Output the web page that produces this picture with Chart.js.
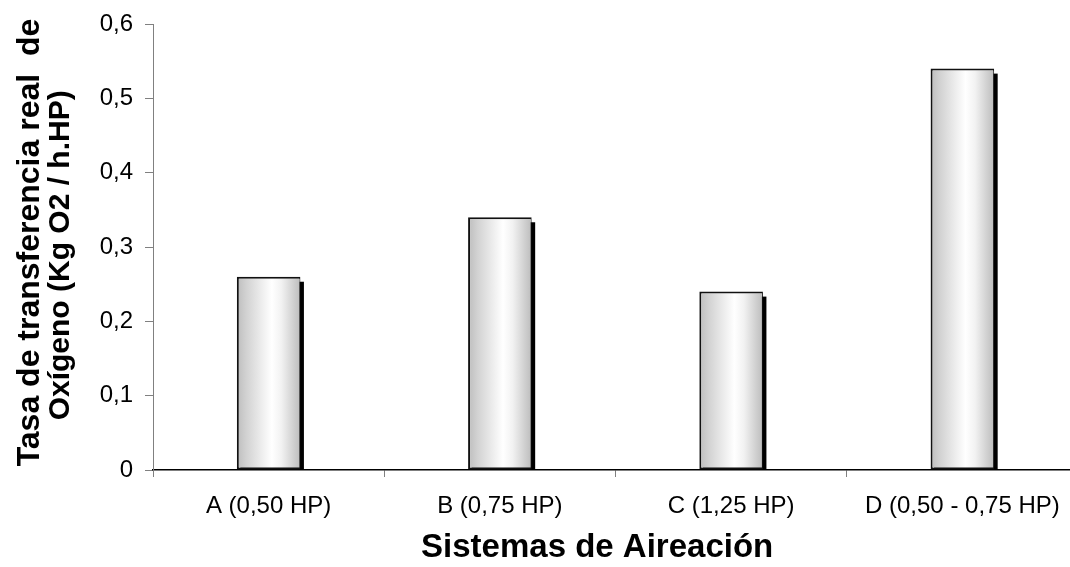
<!DOCTYPE html>
<html>
<head>
<meta charset="utf-8">
<script src="https://cdn.jsdelivr.net/npm/chart.js@4/dist/chart.umd.min.js"></script>
<style>
  html, body { margin: 0; padding: 0; background: #fff; overflow: hidden; }
  #wrap { width: 1070px; height: 567px; overflow: hidden; }
  canvas { display: block; }
</style>
</head>
<body>
<div id="wrap"><canvas id="c" width="1085" height="567"></canvas></div>
<script>
// Aeration systems and their real oxygen transfer rate (kg O2 / h.HP)
const categories = ['A (0,50 HP)', 'B (0,75 HP)', 'C (1,25 HP)', 'D (0,50 - 0,75 HP)'];
const transferRate = [0.26, 0.34, 0.24, 0.54];
const yTicks = [0, 0.1, 0.2, 0.3, 0.4, 0.5, 0.6];

const FONT = "'Liberation Sans', Arial, sans-serif";
const BAR_PCT = 0.275;

// Horizontal grey-white-grey shading across each bar
function barGradient(ctx) {
  const chart = ctx.chart;
  const xs = chart.scales.x;
  if (!chart.chartArea || !xs) return '#e0e0e0';
  const c = xs.getPixelForValue(ctx.dataIndex);
  const half = (xs.width / categories.length) * BAR_PCT / 2;
  const g = chart.ctx.createLinearGradient(c - half, 0, c + half, 0);
  g.addColorStop(0, '#bdbdbd');
  g.addColorStop(0.15, '#d2d2d2');
  g.addColorStop(0.55, '#ffffff');
  g.addColorStop(0.7, '#f2f2f2');
  g.addColorStop(1, '#bcbcbc');
  return g;
}

// Solid black drop shadow behind every bar
const barShadow = {
  id: 'barShadow',
  beforeDatasetDraw(chart, args) {
    const ctx = chart.ctx;
    ctx.save();
    ctx.fillStyle = '#000';
    args.meta.data.forEach(el => {
      const p = el.getProps(['x', 'y', 'base', 'width'], true);
      const left = p.x - p.width / 2 + 3.5;
      ctx.fillRect(left, p.y + 5, p.width, p.base - p.y - 5);
    });
    ctx.restore();
  }
};

new Chart(document.getElementById('c'), {
  type: 'bar',
  data: {
    labels: categories,
    datasets: [{
      data: transferRate,
      backgroundColor: barGradient,
      borderColor: '#111',
      borderWidth: { left: 2, top: 2, bottom: 2, right: 1 },
      borderSkipped: false,
      barPercentage: BAR_PCT,
      categoryPercentage: 1
    }]
  },
  plugins: [barShadow],
  options: {
    responsive: false,
    animation: false,
    layout: { padding: { left: 0, right: 7, top: 23, bottom: 0 } },
    plugins: { legend: { display: false }, tooltip: { enabled: false } },
    scales: {
      x: {
        grid: { display: true, drawOnChartArea: false, drawTicks: true, tickLength: 7, color: '#808080', offset: true },
        border: { display: true, color: '#000', width: 1.5 },
        ticks: { color: '#000', padding: 15, font: { family: FONT, size: 24 } },
        title: {
          display: true,
          text: 'Sistemas de Aireación    ',
          color: '#000',
          font: { family: FONT, size: 33, weight: 'bold', lineHeight: 1 },
          padding: { top: 0, bottom: 3 }
        },
        afterFit(scale) { scale.height = 97; }
      },
      y: {
        min: 0,
        max: 0.6,
        weight: 0,
        afterBuildTicks(scale) { scale.ticks = yTicks.map(v => ({ value: v })); },
        grid: { display: true, drawOnChartArea: false, drawTicks: true, tickLength: 8, color: '#808080' },
        border: { display: true, color: '#808080', width: 1 },
        ticks: {
          color: '#000',
          padding: 12,
          font: { family: FONT, size: 24, lineHeight: 1 },
          callback: v => v === 0 ? '0' : v.toFixed(1).replace('.', ',')
        },
        title: {
          display: true,
          text: 'Oxígeno (Kg O2 / h.HP)  ',
          color: '#000',
          font: { family: FONT, size: 30, weight: 'bold', lineHeight: 1 },
          padding: { top: 1, bottom: 0 }
        },
        afterFit(scale) { scale.width = 108; }
      },
      // outer left axis carrying the first line of the value-axis title
      yTitle: {
        type: 'linear',
        position: 'left',
        weight: 1,
        min: 0,
        max: 0.6,
        ticks: { display: false },
        grid: { display: false, drawTicks: false },
        border: { display: false },
        title: {
          display: true,
          text: ' Tasa de transferencia real  de',
          color: '#000',
          font: { family: FONT, size: 32, weight: 'bold', lineHeight: 1 },
          padding: { top: 14, bottom: 0 }
        },
        afterFit(scale) { scale.width = 45; }
      }
    }
  }
});
</script>
</body>
</html>
